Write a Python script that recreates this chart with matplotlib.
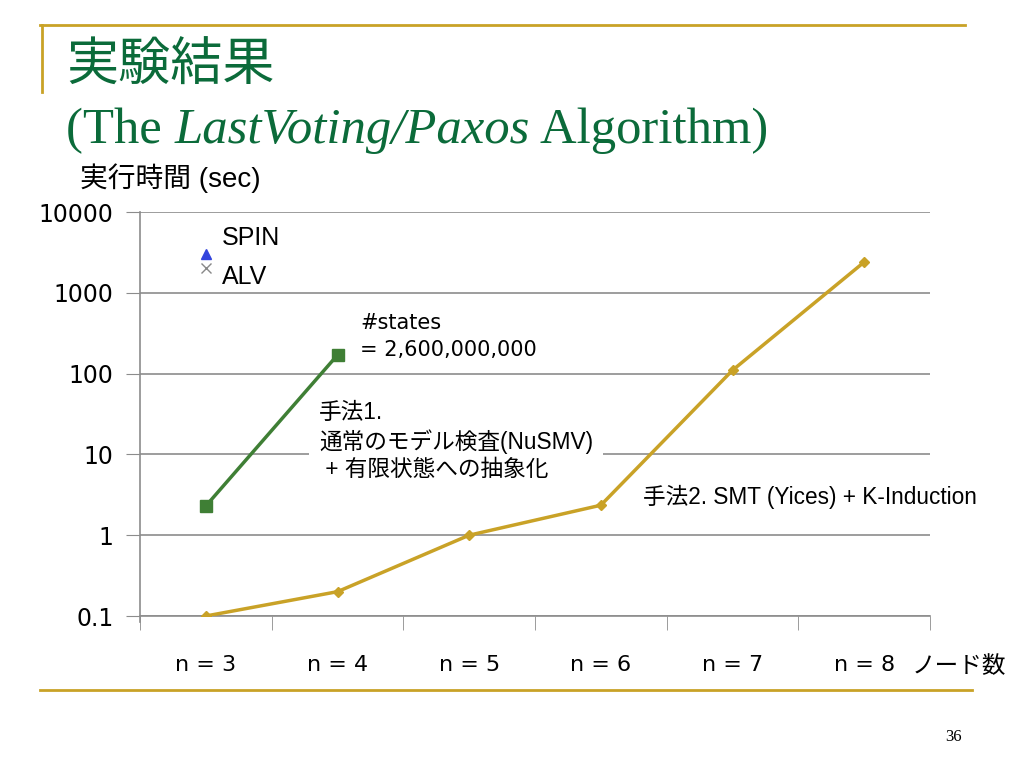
import matplotlib.pyplot as plt
from matplotlib.lines import Line2D
from matplotlib.ticker import FixedLocator, NullFormatter

plt.rcParams['font.family'] = ['Liberation Sans', 'Noto Sans CJK JP']

# data
nodes = ["n = 3", "n = 4", "n = 5", "n = 6", "n = 7", "n = 8"]
smt_times = [0.1, 0.2, 1.0, 2.35, 110, 2400]      # 手法2 (Yices + K-Induction)
nusmv_times = [2.3, 170]                          # 手法1 (NuSMV), n=3..4
spin_time = [3000]                                # SPIN, n=3
alv_time = [2000]                                 # ALV, n=3
yticks = [0.1, 1, 10, 100, 1000, 10000]
ytick_labels = ["0.1", "1", "10", "100", "1000", "10000"]

gold = "#C9A227"
green = "#3F7F35"
title_green = "#0B6B3A"
grid_gray = "#8C8C8C"

W, H = 1024, 768
fig = plt.figure(figsize=(W / 100, H / 100), dpi=100)
renderer = fig.canvas.get_renderer()

def fx(px):
    return px / W

def fy(py):
    return 1 - py / H

# slide frame lines
fig.add_artist(Line2D([fx(40), fx(965)], [fy(25), fy(25)], color=gold, lw=2))
fig.add_artist(Line2D([fx(42), fx(42)], [fy(25), fy(92)], color=gold, lw=2))
fig.add_artist(Line2D([fx(40), fx(972)], [fy(690), fy(690)], color=gold, lw=2))

# titles
fig.text(fx(66), fy(66), "実験結果", fontsize=37.5, color=title_green,
         va="center", ha="left", family="Noto Sans CJK JP")

# second title line: plain / italic / plain pieces placed one after another
xpos = 66
for piece, style in [("(The ", "normal"), ("LastVoting/Paxos", "italic"),
                     (" Algorithm)", "normal")]:
    t = fig.text(fx(xpos), fy(131), piece, fontsize=36.5, color=title_green,
                 va="center", ha="left", family="Liberation Serif", style=style)
    xpos += t.get_window_extent(renderer).width

fig.text(fx(80), fy(178), "実行時間 (sec)", fontsize=20, va="center", ha="left")
fig.text(fx(953), fy(737), "36", fontsize=12, va="center", ha="center",
         family="Liberation Serif")

ax = fig.add_axes([fx(140), fy(616), fx(930) - fx(140), fy(212) - fy(616)])
x = list(range(len(nodes)))

ax.plot(x, smt_times, color=gold, lw=2.5, marker="D", ms=5.5, zorder=3)
ax.plot(x[:len(nusmv_times)], nusmv_times, color=green, lw=2.5, marker="s",
        ms=8, zorder=3)
ax.plot(x[:1], spin_time, ls="none", marker="^", color="#3344DD", ms=7, zorder=3)
ax.plot(x[:1], alv_time, ls="none", marker="x", color="#888888", ms=7, mew=1,
        zorder=3)

ax.set_yscale("log")
ax.set_ylim(0.1, 10000)
ax.set_xlim(-0.5, len(nodes) - 0.5)
ax.yaxis.set_major_locator(FixedLocator(yticks))
ax.set_yticklabels(ytick_labels, family="DejaVu Sans", fontsize=17)
ax.yaxis.set_minor_locator(FixedLocator([]))
ax.tick_params(axis="y", which="major", length=10, color=grid_gray, pad=9)
ax.grid(axis="y", color=grid_gray, lw=1.2)

ax.set_xticks(x)
ax.set_xticklabels(nodes, fontsize=16, family="DejaVu Sans")
ax.set_xticks([i - 0.5 for i in range(len(nodes) + 1)], minor=True)
ax.xaxis.set_minor_formatter(NullFormatter())
ax.tick_params(axis="x", which="major", length=0, pad=28)
ax.tick_params(axis="x", which="minor", length=10, color=grid_gray)

for side in ["top", "right"]:
    ax.spines[side].set_visible(False)
for side in ["left", "bottom"]:
    ax.spines[side].set_color(grid_gray)
    ax.spines[side].set_linewidth(1.2)
ax.spines["left"].set_bounds(0.085, 10000)

# annotations
fig.text(fx(222), fy(238), "SPIN", fontsize=18, va="center")
fig.text(fx(222), fy(277), "ALV", fontsize=18, va="center")
fig.text(fx(360), fy(323), "#states", fontsize=15, va="center", family="DejaVu Sans")
fig.text(fx(360), fy(350), "= 2,600,000,000", fontsize=15, va="center",
         family="DejaVu Sans")
fig.text(fx(319), fy(441), "手法1.\n通常のモデル検査(NuSMV)\n + 有限状態への抽象化",
         fontsize=16.3, va="center", ha="left", linespacing=1.25,
         bbox=dict(facecolor="white", edgecolor="none", pad=7))
fig.text(fx(643), fy(497), "手法2. SMT (Yices) + K-Induction", fontsize=16.3,
         va="center", ha="left")
fig.text(fx(912), fy(667), "ノード数", fontsize=17, va="center", ha="left")

fig.savefig("out.png", dpi=100)
